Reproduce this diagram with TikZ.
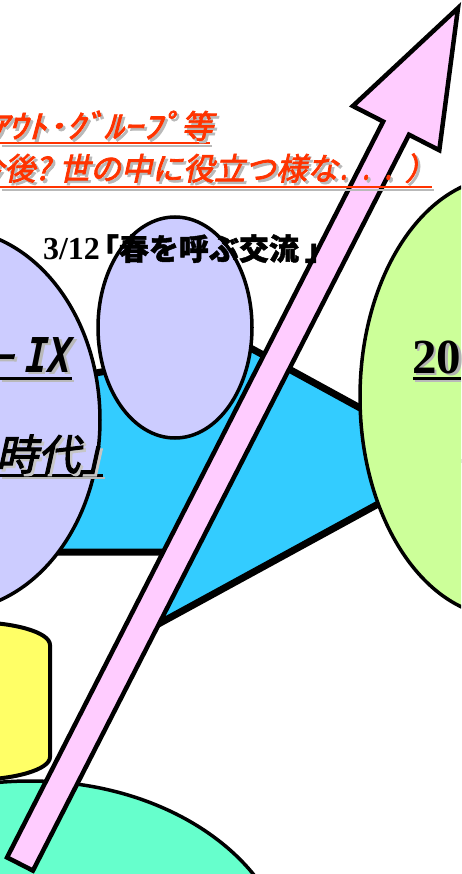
\documentclass[tikz,border=0pt]{standalone}
\usepackage{fontspec}
\usepackage{graphicx}
\setmainfont{Liberation Serif}
\newfontfamily\jpslant[FakeBold=2.5,FakeSlant=0.22]{Noto Sans CJK JP}
\newfontfamily\jpbold[FakeBold=1.5]{Noto Sans CJK JP}
\newfontfamily\monoit[FakeStretch=0.8,FakeSlant=0.2]{DejaVu Sans Mono}
\definecolor{cyanfill}{HTML}{33CCFF}
\definecolor{lavfill}{HTML}{CCCCFF}
\definecolor{grnfill}{HTML}{CCFF99}
\definecolor{yelfill}{HTML}{FFFF66}
\definecolor{tealfill}{HTML}{66FFCC}
\definecolor{pinkfill}{HTML}{FFCCFF}
\definecolor{redtext}{HTML}{FF3300}
\newcommand\shtext[2]{\makebox[0pt][l]{\hspace{2.5pt}\raisebox{-2.5pt}{\textcolor{#1}{#2}}}#2}
\tikzset{
  cyanshape/.style={fill=cyanfill,draw=black,line width=7pt,line join=miter},
  lavshape/.style={fill=lavfill,draw=black,line width=3.5pt},
  grnshape/.style={fill=grnfill,draw=black,line width=3.5pt},
  yelshape/.style={fill=yelfill,draw=black,line width=4pt},
  tealshape/.style={fill=tealfill,draw=black,line width=3.5pt},
  arrowshape/.style={fill=pinkfill,draw=black,line width=4.5pt,line join=miter},
  txt/.style={inner sep=0pt,outer sep=0pt},
  ulred/.style={draw=redtext,line width=2.5pt},
  ulblk/.style={draw=black,line width=3pt},
  ulsh/.style={draw=gray!55,line width=2.5pt},
}
\begin{document}
\begin{tikzpicture}[x=1pt,y=-1pt]
\useasboundingbox (0,0) rectangle (461,874);
\begin{scope}
\clip (0,0) rectangle (461,874);
\fill[white] (0,0) rectangle (461,874);
% cyan freeform
\draw[cyanshape] (0,391) -- (245,345) -- (457,461) -- (162,622) -- (163,552) -- (0,552) -- cycle;
% ellipses
\draw[lavshape] (-50,420) ellipse [x radius=150, y radius=191];
\draw[lavshape] (175,327.5) ellipse [x radius=77, y radius=110.5];
\draw[grnshape] (505,397) ellipse [x radius=145, y radius=220];
\draw[tealshape] (30,972) ellipse [x radius=260, y radius=191];
% yellow can
\draw[yelshape] (50,645) -- (50,757) arc[start angle=0,end angle=180,x radius=80,y radius=23]
  -- (-110,645) arc[start angle=180,end angle=360,x radius=80,y radius=23] -- cycle;
% pink arrow
\draw[arrowshape] (7.08,857.40) -- (383.16,121.52) -- (352.87,106.04) -- (458,8) -- (439.29,150.20) -- (409.0,134.72) -- (32.92,870.60) -- cycle;
% red title lines
\draw[ulsh] (2,146) -- (212,146);
\draw[ulred] (0,143) -- (210,143);
\draw[ulsh] (2,190) -- (434,190);
\draw[ulred] (0,187) -- (432,187);
\node[txt,anchor=base east,text=redtext,font=\jpslant\fontsize{32pt}{32pt}\selectfont] (line1) at (213,138)
  {\shtext{gray!55}{\scalebox{1.2}[1]{ｱｳﾄ･ｸﾞﾙｰﾌﾟ}等}};
\node[txt,anchor=base east,text=redtext,font=\jpslant\fontsize{31pt}{31pt}\selectfont] (line2) at (436,180)
  {\shtext{gray!55}{今後?\hspace{9pt}世の中に役立つ様な\scalebox{0.72}[1]{．．．}）}};
% date label
\node[txt,anchor=base west,font=\bfseries\fontsize{32pt}{32pt}\selectfont] (date) at (43,260)
  {3/12\hspace{-11pt}{\jpbold\fontsize{30pt}{30pt}\selectfont 「春を呼ぶ交流\hspace{6pt}」}};
% left ellipse texts
\draw[ulsh] (2,381) -- (74,381);
\draw[ulblk] (0,378) -- (72,378);
\node[txt,anchor=base east] (ix) at (69,372)
  {\shtext{gray!55}{{\jpslant\fontsize{40pt}{40pt}\selectfont ー}\hspace{8pt}{\monoit\bfseries\fontsize{48pt}{48pt}\selectfont IX}}};
\draw[ulsh] (2,478) -- (105,478);
\draw[ulblk] (0,475) -- (103,475);
\node[txt,anchor=base west,font=\jpslant\fontsize{42pt}{42pt}\selectfont] (era) at (-4,470)
  {\shtext{gray!45}{時代」}};
% green ellipse text
\draw[ulsh] (415,381) -- (463,381);
\draw[ulblk] (413,378) -- (461,378);
\node[txt,anchor=base west,font=\bfseries\fontsize{49pt}{49pt}\selectfont] (year) at (412,373)
  {\shtext{gray!60}{20}};
\end{scope}
\end{tikzpicture}
\end{document}
